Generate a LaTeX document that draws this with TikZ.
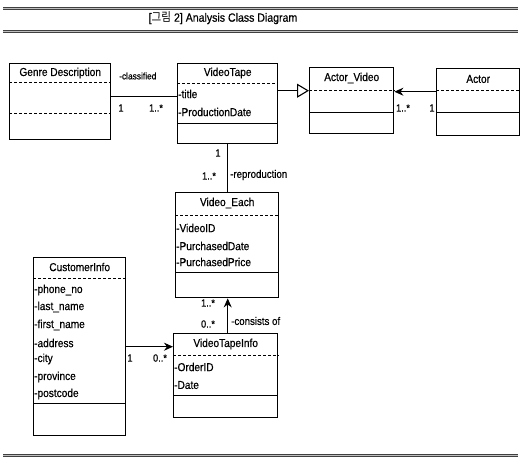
\documentclass[tikz,border=0pt]{standalone}
\usepackage{fontspec}
\setmainfont{Liberation Sans}[FakeStretch=0.88, FakeBold=0.5]
\newfontfamily\krfont{Noto Sans CJK KR}[FakeStretch=0.88]
\usetikzlibrary{arrows.meta}

\begin{document}
\begin{tikzpicture}[
  x=1pt, y=-1pt, font=\fontsize{11.5}{12}\selectfont, >=Stealth,
  cls/.style={draw, line width=1.4pt, anchor=north west, inner sep=0pt},
  cname/.style={inner sep=0pt},
  attr/.style={anchor=west, inner sep=0pt},
  hsep/.style={densely dashed, line width=0.7pt},
  lsep/.style={line width=0.9pt},
  mult/.style={font=\fontsize{10.5}{11}\selectfont, inner sep=0pt},
  role/.style={font=\fontsize{11}{12}\selectfont, inner sep=0pt, anchor=west},
  bar/.style={draw=black!75, double=black!25, line width=0.7pt, double distance=1.6pt},
  link/.style={line width=1.1pt},
]
\useasboundingbox (0,0) rectangle (521,460);

% ---------------- frame and caption ----------------
\draw[bar] (3,8.5) -- (518,8.5);
\draw[bar] (3,31.5) -- (518,31.5);
\draw[bar] (3,455.5) -- (518,455.5);
\node[inner sep=0pt, font=\fontsize{12}{13}\selectfont] (cap) at (223,18) {[{\krfont 그림} 2] Analysis Class Diagram};

% ---------------- classes ----------------
\node[cls, minimum width=101pt, minimum height=76pt] (genre) at (9,63) {};
\node[cname] (genre-t) at ([yshift=-10pt]genre.north) {Genre Description};
\draw[hsep] ([yshift=-19pt]genre.north west) -- ([yshift=-19pt]genre.north east);
\draw[hsep] ([yshift=-50pt]genre.north west) -- ([yshift=-50pt]genre.north east);

\node[cls, minimum width=100pt, minimum height=80pt] (tape) at (177,63) {};
\node[cname] (tape-t) at ([yshift=-10pt]tape.north) {VideoTape};
\draw[hsep] ([yshift=-20pt]tape.north west) -- ([yshift=-20pt]tape.north east);
\node[attr] (tape-a1) at ([xshift=1pt,yshift=-31pt]tape.north west) {-title};
\node[attr] (tape-a2) at ([xshift=1pt,yshift=-49pt]tape.north west) {-ProductionDate};
\draw[lsep] ([yshift=-60pt]tape.north west) -- ([yshift=-60pt]tape.north east);

\node[cls, minimum width=84pt, minimum height=66pt] (actvid) at (309,67) {};
\node[cname] (actvid-t) at ([yshift=-11pt]actvid.north) {Actor\_Video};
\draw[hsep] ([yshift=-23pt]actvid.north west) -- ([yshift=-23pt]actvid.north east);
\draw[lsep] ([yshift=-45pt]actvid.north west) -- ([yshift=-45pt]actvid.north east);

\node[cls, minimum width=83pt, minimum height=67pt] (actor) at (436,68) {};
\node[cname] (actor-t) at ([yshift=-11pt]actor.north) {Actor};
\draw[hsep] ([yshift=-22pt]actor.north west) -- ([yshift=-22pt]actor.north east);
\draw[lsep] ([yshift=-44pt]actor.north west) -- ([yshift=-44pt]actor.north east);

\node[cls, minimum width=103pt, minimum height=105pt] (each) at (175,192) {};
\node[cname] (each-t) at ([yshift=-11pt]each.north) {Video\_Each};
\draw[hsep] ([yshift=-23pt]each.north west) -- ([yshift=-23pt]each.north east);
\node[attr] (each-a1) at ([xshift=1pt,yshift=-36pt]each.north west) {-VideoID};
\node[attr] (each-a2) at ([xshift=1pt,yshift=-54pt]each.north west) {-PurchasedDate};
\node[attr] (each-a3) at ([xshift=1pt,yshift=-70pt]each.north west) {-PurchasedPrice};
\draw[lsep] ([yshift=-80pt]each.north west) -- ([yshift=-80pt]each.north east);

\node[cls, minimum width=104pt, minimum height=84pt] (info) at (173,333) {};
\node[cname] (info-t) at ([yshift=-11pt]info.north) {VideoTapeInfo};
\draw[hsep] ([yshift=-22pt]info.north west) -- ([yshift=-22pt]info.north east);
\node[attr] (info-a1) at ([xshift=1pt,yshift=-34pt]info.north west) {-OrderID};
\node[attr] (info-a2) at ([xshift=1pt,yshift=-52pt]info.north west) {-Date};
\draw[lsep] ([yshift=-62pt]info.north west) -- ([yshift=-62pt]info.north east);

\node[cls, minimum width=92pt, minimum height=178pt] (cust) at (33,257) {};
\node[cname] (cust-t) at ([yshift=-10pt]cust.north) {CustomerInfo};
\draw[hsep] ([yshift=-21pt]cust.north west) -- ([yshift=-21pt]cust.north east);
\node[attr] (cust-a1) at ([xshift=1pt,yshift=-33pt]cust.north west) {-phone\_no};
\node[attr] (cust-a2) at ([xshift=1pt,yshift=-50pt]cust.north west) {-last\_name};
\node[attr] (cust-a3) at ([xshift=1pt,yshift=-68pt]cust.north west) {-first\_name};
\node[attr] (cust-a4) at ([xshift=1pt,yshift=-86pt]cust.north west) {-address};
\node[attr] (cust-a5) at ([xshift=1pt,yshift=-102pt]cust.north west) {-city};
\node[attr] (cust-a6) at ([xshift=1pt,yshift=-120pt]cust.north west) {-province};
\node[attr] (cust-a7) at ([xshift=1pt,yshift=-137pt]cust.north west) {-postcode};
\draw[lsep] ([yshift=-146pt]cust.north west) -- ([yshift=-146pt]cust.north east);

% ---------------- associations ----------------
\draw[link] ([yshift=5pt]genre.east) -- ([yshift=5pt]genre.east -| tape.west);
\node[role, font=\fontsize{9.5}{10}\selectfont] (classified) at (119,76) {-classified};
\node[mult] (m1) at (121,108) {1};
\node[mult] (m2) at (156,108) {1..*};

\draw[link, -{Triangle[open, length=12pt, width=14pt]}]
  ([yshift=13pt]tape.east) -- ([yshift=13pt]tape.east -| actvid.west);

\draw[link, -{Stealth[length=9pt, width=8pt]}]
  ([yshift=10.5pt]actor.west) -- ([yshift=10.5pt]actor.west -| actvid.east);
\node[mult] (m3) at (403,108) {1..*};
\node[mult] (m4) at (432,108) {1};

\draw[link] (tape.south) -- (tape.south |- each.north);
\node[mult] (m5) at (218,153) {1};
\node[mult] (m6) at (209,176) {1..*};
\node[role] (repro) at (230,175) {-reproduction};

\draw[link, -{Stealth[length=9pt, width=8pt]}]
  ([xshift=2pt]info.north) -- ([xshift=2pt]info.north |- each.south);
\node[mult] (m7) at (208,303) {1..*};
\node[mult] (m8) at (208,324) {0..*};
\node[role] (consists) at (231,321) {-consists of};

\draw[link, -{Stealth[length=9pt, width=8pt]}]
  (cust.east) -- (cust.east -| info.west);
\node[mult] (m9) at (130,358) {1};
\node[mult] (m10) at (160,358) {0..*};
\end{tikzpicture}
\end{document}
